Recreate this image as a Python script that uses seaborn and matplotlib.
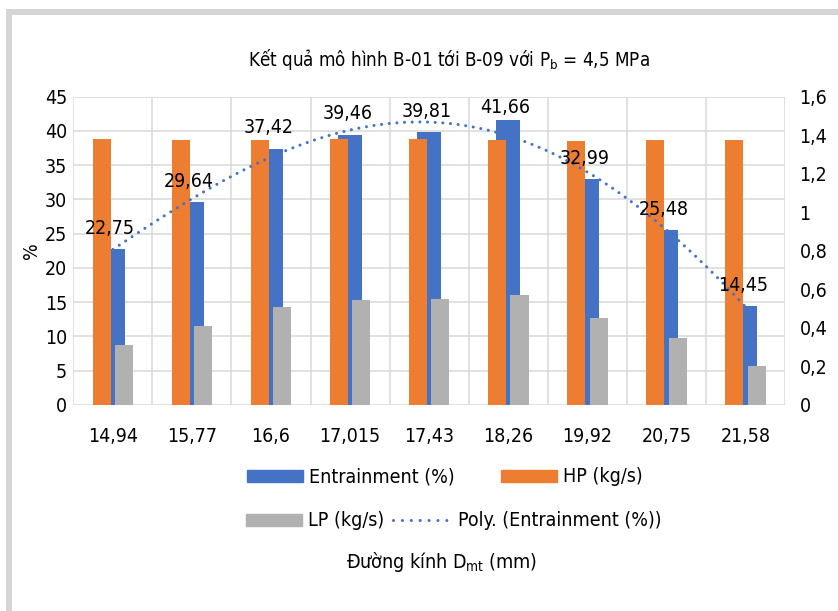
import numpy as np
import pandas as pd
import matplotlib.pyplot as plt
import seaborn as sns
from matplotlib.lines import Line2D
from matplotlib.patches import Patch, Rectangle
from matplotlib.ticker import FuncFormatter, MultipleLocator

# data
cats = ['14,94', '15,77', '16,6', '17,015', '17,43', '18,26', '19,92', '20,75', '21,58']
entrain = [22.75, 29.64, 37.42, 39.46, 39.81, 41.66, 32.99, 25.48, 14.45]
hp = [1.38, 1.375, 1.375, 1.38, 1.38, 1.375, 1.37, 1.375, 1.375]
lp = [0.31, 0.41, 0.51, 0.545, 0.55, 0.57, 0.45, 0.35, 0.20]

BLUE = '#4472C4'
ORANGE = '#ED7D31'
GRAY = '#B1B1B1'
GRID = '#D9D9D9'

sns.set_style('white')
plt.rcParams['font.family'] = ['DejaVu Sans']
plt.rcParams['font.stretch'] = 'condensed'
plt.rcParams['text.color'] = 'black'
plt.rcParams['axes.labelcolor'] = 'black'
plt.rcParams['xtick.color'] = 'black'
plt.rcParams['ytick.color'] = 'black'
FS = 14

fig = plt.figure(figsize=(8.38, 6.11), dpi=100)
ax1 = fig.add_axes([0.0875, 0.3372, 0.8492, 0.5045])
ax2 = ax1.twinx()

# primary axis: entrainment bars
sns.barplot(x=cats, y=entrain, ax=ax1, color=BLUE, saturation=1, width=0.30,
            errorbar=None, linewidth=0, order=cats)

# secondary axis: HP / LP bars
df = pd.DataFrame({'Dmt': cats * 2,
                   'value': hp + lp,
                   'series': ['HP (kg/s)'] * len(cats) + ['LP (kg/s)'] * len(cats)})
sns.barplot(data=df, x='Dmt', y='value', hue='series', ax=ax2, order=cats,
            palette=[ORANGE, GRAY], saturation=1, width=0.572, gap=0.2,
            errorbar=None, linewidth=0, legend=False)

# polynomial trendline (Excel style, x = 1..n)
idx = np.arange(1, len(cats) + 1)
coef = np.polyfit(idx, entrain, 4)
xs = np.linspace(1, len(cats), 200)
ax2.plot(xs - 1, np.polyval(coef, xs), transform=ax1.transData, color=BLUE,
         lw=2.2, linestyle=(0, (0.01, 2.5)), dash_capstyle='round', zorder=5)

# data labels on top
for i, v in enumerate(entrain):
    off = 11 if v < 40 else 5
    ax2.annotate(f'{v:.2f}'.replace('.', ','), xy=(i, v), xycoords=ax1.transData,
                 xytext=(-2, off), textcoords='offset points', ha='center',
                 va='baseline', fontsize=FS, zorder=6)

ax1.set_xlim(-0.5, len(cats) - 0.5)
ax1.set_ylim(0, 45)
ax2.set_ylim(0, 1.6)
ax1.yaxis.set_major_locator(MultipleLocator(5))
ax2.yaxis.set_major_locator(MultipleLocator(0.2))
ax2.yaxis.set_major_formatter(FuncFormatter(lambda v, p: ('%g' % round(v, 1)).replace('.', ',')))

ax1.xaxis.set_minor_locator(MultipleLocator(1, offset=0.5))
ax1.grid(False)
ax1.grid(True, axis='y', which='major', color=GRID, lw=1.1)
ax1.grid(True, axis='x', which='minor', color=GRID, lw=1.1)
ax1.set_axisbelow(True)
ax2.grid(False)
for ax in (ax1, ax2):
    for s in ax.spines.values():
        s.set_visible(False)

ax1.tick_params(axis='x', which='both', length=0, pad=16, labelsize=FS)
ax1.tick_params(axis='y', length=0, pad=4.5, labelsize=FS)
ax2.tick_params(axis='y', length=0, pad=10.5, labelsize=FS)
ax1.set_xlabel('')
ax1.set_ylabel('%', fontsize=FS, labelpad=3)
ax2.set_ylabel('')

fig.text(449 / 838, 1 - 60 / 611, r'Kết quả mô hình B-01 tới B-09 với P$_\mathregular{b}$ = 4,5 MPa',
         ha='center', va='center', fontsize=13.5)
fig.text(441.7 / 838, 1 - 562 / 611, r'Đường kính D$_\mathregular{mt}$ (mm)',
         ha='center', va='center', fontsize=FS)

# legend entries laid out like the Excel legend
entries = [
    (Patch(color=BLUE), 'Entrainment (%)', 246.7, 477, 0.3),
    (Patch(color=ORANGE), 'HP (kg/s)', 501, 477, 0.3),
    (Patch(color=GRAY), 'LP (kg/s)', 246, 521, 0.3),
    (Line2D([], [], color=BLUE, lw=2.2, linestyle=(0, (0.01, 2.9)), dash_capstyle='round'),
     'Poly. (Entrainment (%))', 392.7, 521, 0.45),
]
for h, lab, x, y, tp in entries:
    fig.legend([h], [lab], loc='center left', bbox_to_anchor=(x / 838, 1 - y / 611),
               frameon=False, borderpad=0, borderaxespad=0, handlelength=2.9,
               handleheight=0.56, handletextpad=tp, fontsize=FS)

# chart border fragments (top and left)
fig.add_artist(Rectangle((6 / 838, 1 - 15 / 611), 1, 5.7 / 611, transform=fig.transFigure,
                         color='#D5D5D5', lw=0))
fig.add_artist(Rectangle((6 / 838, 0), 5.7 / 838, 1 - 9.3 / 611, transform=fig.transFigure,
                         color='#D5D5D5', lw=0))

fig.savefig('out.png', dpi=100)
